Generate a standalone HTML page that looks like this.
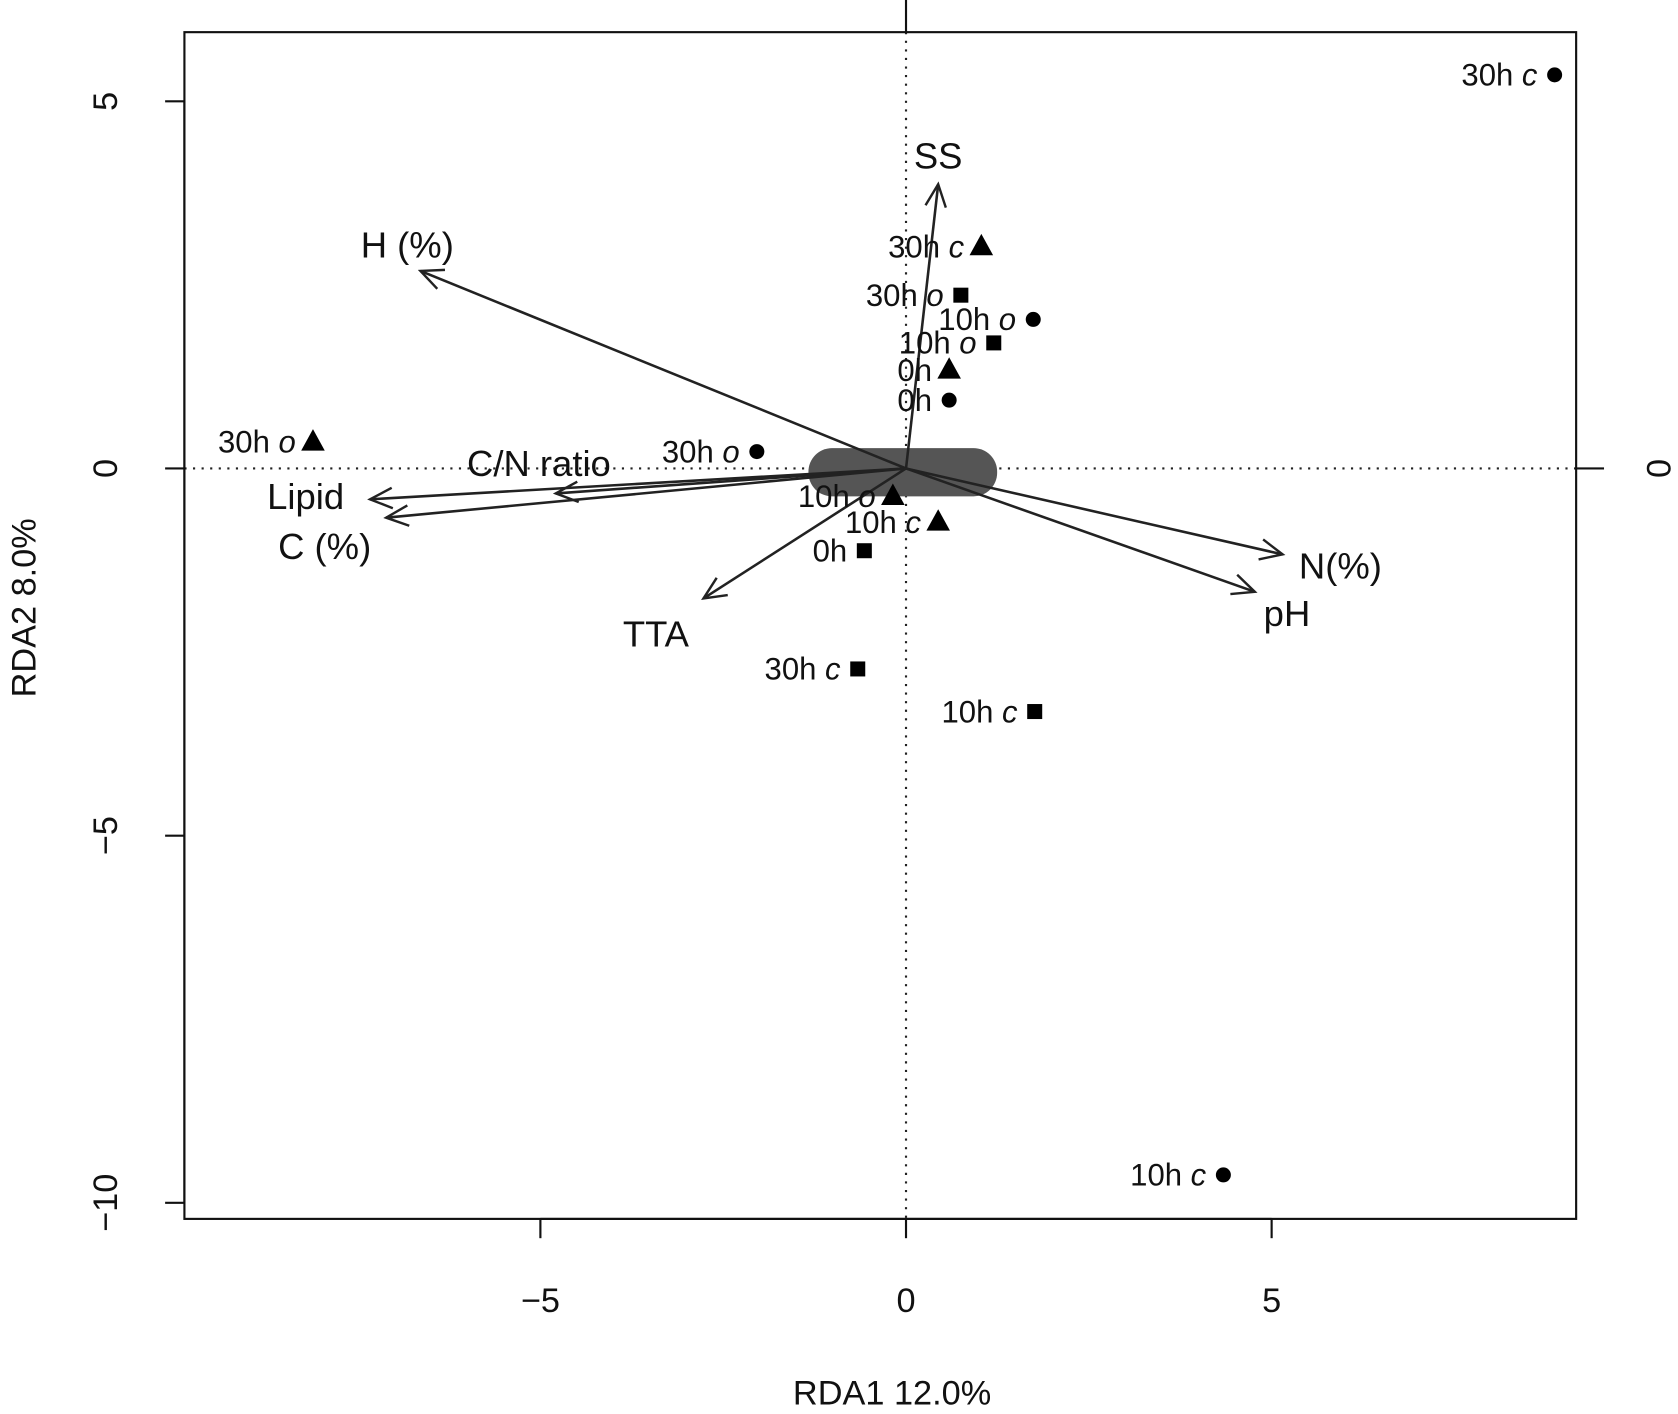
<!DOCTYPE html>
<html><head><meta charset="utf-8"><style>
html,body{margin:0;padding:0;background:#fff;}
svg{display:block;font-family:"Liberation Sans",Arial,sans-serif;}
</style></head><body>
<svg id="chart" width="1678" height="1414" viewBox="0 0 1565 1319" preserveAspectRatio="none">
<defs>
<marker id="ah" viewBox="0 0 30 30" refX="27" refY="15" markerWidth="26" markerHeight="26" markerUnits="userSpaceOnUse" orient="auto">
<path d="M3,4 L27,15 L3,26" fill="none" stroke="#222" stroke-width="2.6"/>
</marker>
</defs>
<g id="plot"></g>
</svg>
<script>
const xTicks=[-5,0,5];
const yTicks=[5,0,-5,-10];
const ptX=[8.87,1.03,0.75,1.74,1.2,0.59,0.59,-8.11,-2.04,-0.18,0.44,-0.57,-0.66,1.76,4.34];
const ptY=[5.36,3.02,2.36,2.03,1.71,1.34,0.93,0.36,0.23,-0.38,-0.73,-1.12,-2.73,-3.31,-9.62];
const ptShape=["circle","triangle","square","circle","square","triangle","circle","triangle","circle","triangle","triangle","square","square","square","circle"];
const ptTime=["30h","30h","30h","10h","10h","0h","0h","30h","30h","10h","10h","0h","30h","10h","10h"];
const ptCond=["c","c","o","o","o","","","o","o","o","c","","c","c","c"];
const arrName=["SS","H (%)","C/N ratio","Lipid","C (%)","TTA","N(%)","pH"];
const arrX=[0.44,-6.64,-4.79,-7.33,-7.11,-2.77,5.15,4.77];
const arrY=[3.87,2.69,-0.34,-0.42,-0.67,-1.77,-1.17,-1.68];
const lblDX=[0,-0.18,-0.23,-0.88,-0.84,-0.65,0.79,0.44];
const lblDY=[0.39,0.36,0.41,0.04,-0.39,-0.48,-0.15,-0.29];

const X0=845,KX=68.2,Y0=437,KY=68.5;
const sx=v=>X0+v*KX, sy=v=>Y0-v*KY;
const NS="http://www.w3.org/2000/svg";
const g=document.getElementById('plot');
function mk(t,a,txt){const e=document.createElementNS(NS,t);for(const k in a)e.setAttribute(k,a[k]);if(txt!==undefined)e.textContent=txt;g.appendChild(e);return e;}
const L=172,R=1470,T=30,B=1137;
let e;
e=mk('line',{x1:L,x2:R,y1:sy(0),y2:sy(0),stroke:'#222','stroke-width':2,'stroke-dasharray':'2,6'});


e=mk('line',{x1:sx(0),x2:sx(0),y1:T,y2:B,stroke:'#222','stroke-width':2,'stroke-dasharray':'2,6'});


e=mk('rect',{x:754,y:418,width:176,height:45,rx:22,fill:'#555'});


e=mk('rect',{x:L,y:T,width:R-L,height:B-T,fill:'none',stroke:'#111','stroke-width':2});


e=mk('line',{x1:sx(-5),x2:sx(5),y1:B,y2:B,stroke:'#111','stroke-width':2});
xTicks.forEach(v=>{
 let t=mk('line',{x1:sx(v),x2:sx(v),y1:B,y2:B+18,stroke:'#111','stroke-width':2});
 
 
 let l=mk('text',{x:sx(v),y:1224,'font-size':32,'text-anchor':'middle',fill:'#111'},v<0?'\u2212'+Math.abs(v):String(v));
 
 
});
yTicks.forEach(v=>{
 let t=mk('line',{x1:L-18,x2:L,y1:sy(v),y2:sy(v),stroke:'#111','stroke-width':2});
 
 
 let l=mk('text',{x:0,y:0,'font-size':32,'text-anchor':'middle',fill:'#111',transform:`translate(109,${sy(v)}) rotate(-90)`},v<0?'\u2212'+Math.abs(v):String(v));
 
 
});
e=mk('line',{x1:L,x2:L,y1:sy(5),y2:sy(-10),stroke:'#111','stroke-width':2});
e=mk('line',{x1:sx(0),x2:sx(0),y1:0,y2:T,stroke:'#111','stroke-width':2});


e=mk('line',{x1:R,x2:R+26,y1:sy(0),y2:sy(0),stroke:'#111','stroke-width':2});


e=mk('text',{x:0,y:0,'font-size':32,'text-anchor':'middle',fill:'#111',transform:`translate(1558,${sy(0)}) rotate(-90)`},'0');


e=mk('text',{x:832,y:1310,'font-size':32,'text-anchor':'middle',fill:'#111'},'RDA1 12.0%');


e=mk('text',{x:0,y:0,'font-size':32,'text-anchor':'middle',fill:'#111',transform:'translate(33,567) rotate(-90)'},'RDA2 8.0%');


arrName.forEach((n,i)=>{
 let a=mk('line',{x1:sx(0),y1:sy(0),x2:sx(arrX[i]),y2:sy(arrY[i]),stroke:'#222','stroke-width':2.4,'marker-end':'url(#ah)'});
 
 
 let t=mk('text',{x:sx(arrX[i]+lblDX[i]),y:sy(arrY[i]+lblDY[i])+12,'font-size':34,'text-anchor':'middle',fill:'#111'},n);
 
 
});
ptX.forEach((v,i)=>{
 const cx=sx(v),cy=sy(ptY[i]);let p;
 if(ptShape[i]==='circle')p=mk('circle',{cx:cx,cy:cy,r:7,fill:'#000'});
 else if(ptShape[i]==='square')p=mk('rect',{x:cx-7,y:cy-7,width:14,height:14,fill:'#000'});
 else p=mk('polygon',{points:`${cx},${cy-12} ${cx+11},${cy+8} ${cx-11},${cy+8}`,fill:'#000'});
 
 
 const t=mk('text',{x:cx-16,y:cy+10,'font-size':29,'text-anchor':'end',fill:'#111'});
 
 
 const s1=document.createElementNS(NS,'tspan');s1.textContent=ptTime[i]+(ptCond[i]?' ':'');t.appendChild(s1);
 if(ptCond[i]){const s2=document.createElementNS(NS,'tspan');s2.setAttribute('font-style','italic');s2.textContent=ptCond[i];t.appendChild(s2);}
});
</script>
</body></html>
